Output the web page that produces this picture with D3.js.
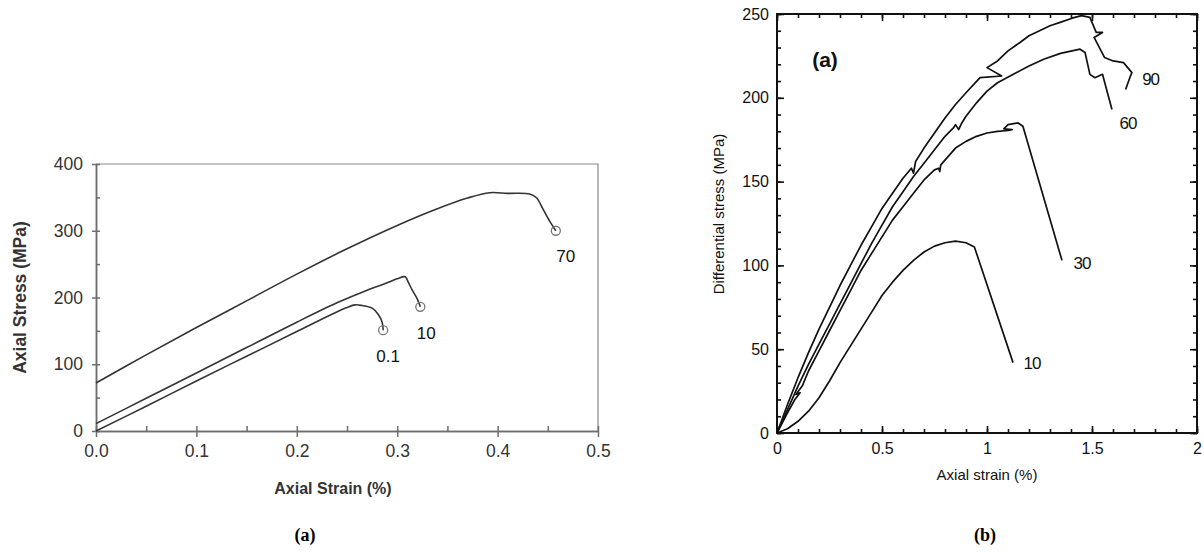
<!DOCTYPE html>
<html>
<head>
<meta charset="utf-8">
<script src="https://cdn.jsdelivr.net/npm/d3@7/dist/d3.min.js"></script>
<style>
  html, body { margin: 0; padding: 0; background: #fff; }
  svg { display: block; }
</style>
</head>
<body>
<svg id="fig" width="1204" height="552"></svg>
<script>
// ---------- Panel (a): axial stress vs axial strain, confining pressures 0.1 / 10 / 70 MPa ----------
const aStrainTicks = [0, 0.1, 0.2, 0.3, 0.4, 0.5];
const aStressTicks = [0, 100, 200, 300, 400];
const aCurveLabels = ["0.1", "10", "70"];

// [strain %, stress MPa]
const aCurve01 = [[0, 0], [0.05, 37], [0.1, 75], [0.15, 112], [0.2, 149], [0.235, 175], [0.25, 185],
  [0.258, 189], [0.265, 188], [0.275, 184], [0.281, 175], [0.285, 163], [0.286, 151]];
const aCurve10 = [[0, 11], [0.05, 49], [0.1, 87], [0.15, 125], [0.2, 163], [0.24, 192], [0.27, 211],
  [0.29, 222], [0.3, 228], [0.308, 231], [0.311, 223], [0.315, 211], [0.32, 198], [0.323, 186]];
const aCurve70 = [[0, 72], [0.05, 114], [0.1, 155], [0.15, 195], [0.2, 235], [0.25, 273], [0.3, 308],
  [0.34, 333], [0.37, 349], [0.392, 357], [0.41, 356], [0.432, 355], [0.439, 349], [0.445, 333],
  [0.452, 314], [0.458, 300]];

// ---------- Panel (b): differential stress vs axial strain, confining pressures 10 / 30 / 60 / 90 MPa ----------
const bStrainTicks = [0, 0.5, 1, 1.5, 2];
const bStressTicks = [0, 50, 100, 150, 200, 250];
const bCurveLabels = ["10", "30", "60", "90"];

const bCurve10 = [[0, 0], [0.05, 2.5], [0.1, 7], [0.15, 13], [0.2, 21], [0.25, 31], [0.3, 42], [0.35, 52],
  [0.4, 62], [0.45, 72], [0.5, 82], [0.55, 90], [0.6, 97], [0.65, 103], [0.7, 108], [0.75, 111.5],
  [0.8, 113.5], [0.85, 114.5], [0.9, 113.5], [0.94, 111], [1.124, 42]];
const bCurve30 = [[0, 0], [0.05, 12], [0.085, 20], [0.11, 24], [0.09, 23], [0.12, 28], [0.15, 37], [0.2, 49],
  [0.25, 61], [0.3, 73], [0.35, 85], [0.4, 97], [0.45, 107], [0.5, 117], [0.55, 127], [0.6, 135],
  [0.65, 143], [0.7, 151], [0.75, 157], [0.77, 158], [0.775, 156], [0.78, 160], [0.85, 170], [0.9, 174],
  [0.95, 177], [1.0, 179], [1.05, 180], [1.1, 180.5], [1.12, 181], [1.08, 181.5], [1.1, 184],
  [1.148, 185], [1.171, 183], [1.357, 103]];
const bCurve60 = [[0, 0], [0.05, 14], [0.1, 28], [0.15, 41], [0.2, 53], [0.25, 65], [0.3, 77], [0.35, 89],
  [0.4, 101], [0.45, 113], [0.5, 124], [0.55, 135], [0.6, 144], [0.65, 153], [0.7, 161], [0.75, 169],
  [0.8, 177], [0.84, 182], [0.85, 184], [0.865, 181], [0.88, 185], [0.9, 189], [0.95, 197], [1.0, 204],
  [1.05, 209], [1.11, 213], [1.2, 219], [1.27, 223], [1.35, 226.5], [1.443, 229], [1.467, 227],
  [1.49, 214], [1.514, 212], [1.55, 214], [1.595, 193]];
const bCurve90 = [[0, 0], [0.05, 17], [0.1, 33], [0.15, 48], [0.2, 62], [0.25, 75], [0.3, 88], [0.35, 100],
  [0.4, 112], [0.45, 123], [0.5, 134], [0.55, 143], [0.6, 152], [0.64, 158], [0.65, 155], [0.66, 162],
  [0.7, 170], [0.75, 179], [0.8, 188], [0.85, 196], [0.9, 203], [0.967, 212], [1.07, 213], [1.0, 218],
  [1.05, 222], [1.1, 228], [1.157, 233], [1.2, 237], [1.3, 243], [1.348, 245], [1.405, 247.5],
  [1.45, 249], [1.49, 248], [1.5, 245], [1.52, 239], [1.55, 239], [1.51, 236], [1.56, 224], [1.6, 222],
  [1.65, 221], [1.69, 215], [1.68, 212], [1.66, 205]];

const svg = d3.select("#fig");
const sans = "'Liberation Sans', Arial, Helvetica, sans-serif";
const serif = "'Liberation Serif', 'Times New Roman', serif";

// ======================= panel (a) =======================
const xA = d3.scaleLinear().domain([0, 0.5]).range([96, 598]);
const yA = d3.scaleLinear().domain([0, 400]).range([431, 164]);
const gA = svg.append("g");
const greyAxis = "#6e6e6e";

// frame (top and right edges)
gA.append("path")
  .attr("d", `M${xA(0)},${yA(400)}H${xA(0.5)}V${yA(0)}`)
  .attr("fill", "none").attr("stroke", "#8a8a8a").attr("stroke-width", 1.2);

function styleAxisA(g) {
  g.select(".domain").attr("stroke", greyAxis).attr("stroke-width", 1.5);
  g.selectAll(".tick line").attr("stroke", greyAxis).attr("stroke-width", 1.5);
  g.selectAll(".tick text").attr("fill", "#333").attr("font-family", sans).attr("font-size", 17.5);
}

// x axis: inner ticks every 0.05, outer ticks + labels every 0.1
gA.append("g").attr("transform", `translate(0,${yA(0)})`)
  .call(d3.axisBottom(xA).tickValues(d3.range(0, 0.51, 0.05)).tickSize(-5).tickSizeOuter(0).tickFormat(""))
  .call(styleAxisA);
gA.append("g").attr("transform", `translate(0,${yA(0)})`)
  .call(d3.axisBottom(xA).tickValues(aStrainTicks).tickSize(6).tickSizeOuter(0).tickPadding(8).tickFormat(d3.format(".1f")))
  .call(styleAxisA);

// y axis: inner ticks every 50, outer ticks + labels every 100
gA.append("g").attr("transform", `translate(${xA(0)},0)`)
  .call(d3.axisLeft(yA).tickValues(d3.range(0, 401, 50)).tickSize(-4).tickSizeOuter(0).tickFormat(""))
  .call(styleAxisA);
gA.append("g").attr("transform", `translate(${xA(0)},0)`)
  .call(d3.axisLeft(yA).tickValues(aStressTicks).tickSize(4).tickSizeOuter(0).tickPadding(9))
  .call(styleAxisA);

const lineA = d3.line().x(d => xA(d[0])).y(d => yA(d[1])).curve(d3.curveCatmullRom.alpha(0.5));
const aCurves = [aCurve01, aCurve10, aCurve70];
gA.selectAll("path.curve").data(aCurves).join("path")
  .attr("class", "curve").attr("d", lineA)
  .attr("fill", "none").attr("stroke", "#333").attr("stroke-width", 1.6);

// failure points
gA.selectAll("circle.end").data(aCurves.map(c => c[c.length - 1])).join("circle")
  .attr("class", "end")
  .attr("cx", d => xA(d[0])).attr("cy", d => yA(d[1])).attr("r", 4.5)
  .attr("fill", "none").attr("stroke", "#777").attr("stroke-width", 1.3);

// curve labels placed just below each end point
const aLabelOffsets = [[5, 32], [6, 32], [10, 31]];
gA.selectAll("text.clabel").data(aCurves).join("text")
  .attr("class", "clabel")
  .attr("x", (c, i) => xA(c[c.length - 1][0]) + aLabelOffsets[i][0])
  .attr("y", (c, i) => yA(c[c.length - 1][1]) + aLabelOffsets[i][1])
  .attr("text-anchor", "middle")
  .attr("font-family", sans).attr("font-size", 17).attr("fill", "#111")
  .text((c, i) => aCurveLabels[i]);

gA.append("text")
  .attr("x", (xA(0) + xA(0.5)) / 2 - 14).attr("y", 494)
  .attr("text-anchor", "middle").attr("font-family", sans).attr("font-weight", "bold")
  .attr("font-size", 16).attr("fill", "#333").text("Axial Strain (%)");
gA.append("text")
  .attr("transform", `translate(26,${(yA(0) + yA(400)) / 2 + 0}) rotate(-90)`)
  .attr("text-anchor", "middle").attr("font-family", sans).attr("font-weight", "bold")
  .attr("font-size", 17.5).attr("fill", "#333").text("Axial Stress (MPa)");

gA.append("text")
  .attr("x", 305).attr("y", 541).attr("text-anchor", "middle")
  .attr("font-family", serif).attr("font-weight", "bold").attr("font-size", 18).text("(a)");

// ======================= panel (b) =======================
const xB = d3.scaleLinear().domain([0, 2]).range([777, 1197]);
const yB = d3.scaleLinear().domain([0, 250]).range([433, 14]);
const gB = svg.append("g");

function styleAxisB(g) {
  g.select(".domain").remove();
  g.selectAll(".tick line").attr("stroke", "#111").attr("stroke-width", 1.6);
  g.selectAll(".tick text").attr("fill", "#111").attr("font-family", sans).attr("font-size", 16);
}

const minorX = d3.range(0, 2.001, 0.1).map(v => +v.toFixed(1));
const minorY = d3.range(0, 251, 10);

// inward ticks on all four sides: minor then major
[[d3.axisBottom, yB(0)], [d3.axisTop, yB(250)]].forEach(([ax, yPos]) => {
  gB.append("g").attr("transform", `translate(0,${yPos})`)
    .call(ax(xB).tickValues(minorX).tickSize(-4).tickSizeOuter(0).tickFormat("")).call(styleAxisB);
  gB.append("g").attr("transform", `translate(0,${yPos})`)
    .call(ax(xB).tickValues(bStrainTicks).tickSize(-7).tickSizeOuter(0).tickFormat("")).call(styleAxisB);
});
[[d3.axisLeft, xB(0)], [d3.axisRight, xB(2)]].forEach(([ax, xPos]) => {
  gB.append("g").attr("transform", `translate(${xPos},0)`)
    .call(ax(yB).tickValues(minorY).tickSize(-4).tickSizeOuter(0).tickFormat("")).call(styleAxisB);
  gB.append("g").attr("transform", `translate(${xPos},0)`)
    .call(ax(yB).tickValues(bStressTicks).tickSize(-7).tickSizeOuter(0).tickFormat("")).call(styleAxisB);
});

// tick labels
gB.append("g").attr("transform", `translate(0,${yB(0)})`)
  .call(d3.axisBottom(xB).tickValues(bStrainTicks).tickSize(0).tickPadding(10).tickFormat(d => String(d)))
  .call(styleAxisB);
gB.append("g").attr("transform", `translate(${xB(0)},0)`)
  .call(d3.axisLeft(yB).tickValues(bStressTicks).tickSize(0).tickPadding(8))
  .call(styleAxisB);

// frame
gB.append("rect")
  .attr("x", xB(0)).attr("y", yB(250)).attr("width", xB(2) - xB(0)).attr("height", yB(0) - yB(250))
  .attr("fill", "none").attr("stroke", "#111").attr("stroke-width", 2);

const lineB = d3.line().x(d => xB(d[0])).y(d => yB(d[1]));
const bCurves = [bCurve10, bCurve30, bCurve60, bCurve90];
gB.selectAll("path.curve").data(bCurves).join("path")
  .attr("class", "curve").attr("d", lineB)
  .attr("fill", "none").attr("stroke", "#111").attr("stroke-width", 1.7)
  .attr("stroke-linejoin", "round");

// curve labels beside each end point
const bLabelOffsets = [[19, 6], [20, 9], [16, 19], [25, -4]];
gB.selectAll("text.clabel").data(bCurves).join("text")
  .attr("class", "clabel")
  .attr("x", (c, i) => xB(c[c.length - 1][0]) + bLabelOffsets[i][0])
  .attr("y", (c, i) => yB(c[c.length - 1][1]) + bLabelOffsets[i][1])
  .attr("text-anchor", "middle").attr("letter-spacing", -1)
  .attr("font-family", sans).attr("font-size", 17).attr("fill", "#111")
  .text((c, i) => bCurveLabels[i]);

gB.append("text")
  .attr("x", 825).attr("y", 67).attr("text-anchor", "middle")
  .attr("font-family", sans).attr("font-weight", "bold").attr("font-size", 21).attr("fill", "#111")
  .text("(a)");

gB.append("text")
  .attr("x", 987).attr("y", 480).attr("text-anchor", "middle")
  .attr("font-family", sans).attr("font-size", 15).attr("fill", "#111").text("Axial strain (%)");
gB.append("text")
  .attr("transform", `translate(724,214) rotate(-90)`)
  .attr("text-anchor", "middle").attr("font-family", sans).attr("font-size", 15).attr("fill", "#111")
  .text("Differential stress (MPa)");

gB.append("text")
  .attr("x", 985).attr("y", 541).attr("text-anchor", "middle")
  .attr("font-family", serif).attr("font-weight", "bold").attr("font-size", 18).text("(b)");
</script>
</body>
</html>
